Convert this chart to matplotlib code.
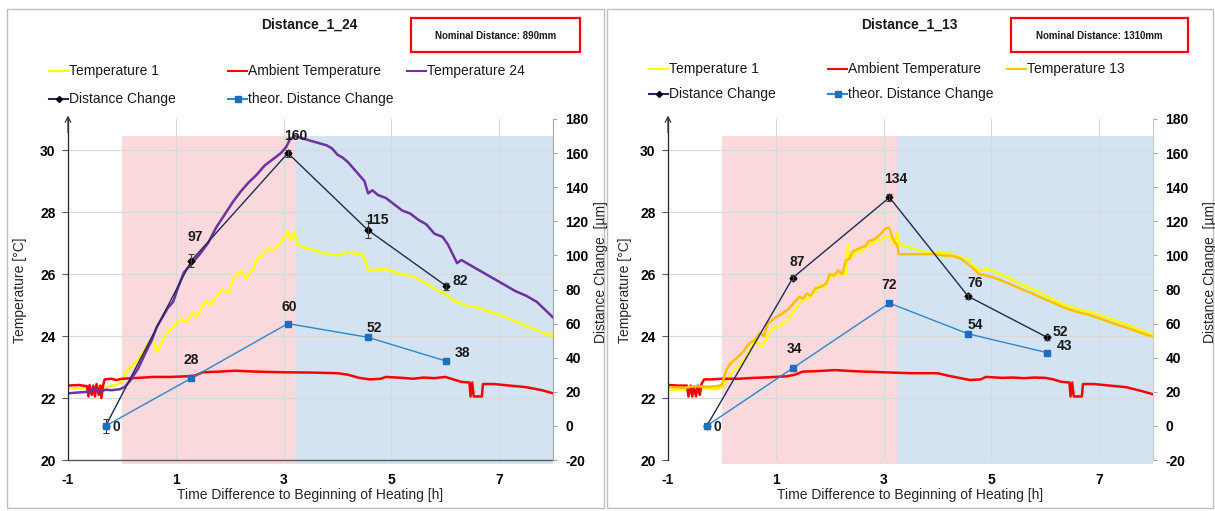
import matplotlib
matplotlib.use("Agg")
import matplotlib.pyplot as plt
from matplotlib.patches import Rectangle

plt.rcParams['font.family'] = ['Liberation Sans', 'DejaVu Sans']
plt.rcParams['axes.unicode_minus'] = False

# ---------------- data: Distance_1_24 ----------------
temp1_24 = [(-1.0, 22.3), (-0.8, 22.32), (-0.6, 22.35), (-0.5, 22.28), (-0.45, 22.4), (-0.4, 22.3),
            (-0.3, 22.35), (-0.15, 22.4), (0.0, 22.5), (0.1, 22.9), (0.2, 23.05), (0.3, 23.25),
            (0.4, 23.5), (0.5, 23.8), (0.58, 23.85), (0.65, 23.5), (0.72, 23.7), (0.8, 24.0),
            (0.9, 24.2), (1.0, 24.4), (1.1, 24.55), (1.2, 24.45), (1.3, 24.75), (1.4, 24.65),
            (1.5, 25.0), (1.57, 25.13), (1.65, 25.0), (1.71, 25.2), (1.8, 25.35), (1.86, 25.5),
            (1.95, 25.4), (2.0, 25.45), (2.07, 25.9), (2.15, 26.0), (2.22, 26.1), (2.3, 25.85),
            (2.36, 25.99), (2.45, 26.2), (2.5, 26.52), (2.6, 26.6), (2.72, 26.84), (2.8, 26.75),
            (2.87, 26.9), (2.95, 27.0), (3.01, 27.17), (3.08, 27.38), (3.13, 27.1), (3.16, 27.2),
            (3.21, 27.33), (3.24, 26.95), (3.4, 26.85), (3.6, 26.75), (3.8, 26.65), (4.0, 26.6),
            (4.2, 26.7), (4.35, 26.65), (4.46, 26.65), (4.52, 26.4), (4.57, 26.1), (4.7, 26.15),
            (4.89, 26.15), (5.0, 26.1), (5.1, 26.04), (5.2, 26.0), (5.33, 25.94), (5.45, 25.9),
            (5.54, 25.78), (5.7, 25.65), (5.83, 25.5), (5.95, 25.4), (6.05, 25.3), (6.19, 25.08),
            (6.3, 25.05), (6.41, 24.97), (6.6, 24.92), (6.8, 24.8), (7.0, 24.68), (7.2, 24.55),
            (7.4, 24.4), (7.6, 24.25), (7.8, 24.12), (8.0, 24.0)]
amb_24 = [(-1.0, 22.4), (-0.8, 22.42), (-0.65, 22.38), (-0.62, 22.05), (-0.6, 22.42), (-0.56, 22.1),
          (-0.53, 22.4), (-0.5, 22.05), (-0.47, 22.45), (-0.43, 22.1), (-0.4, 22.4), (-0.38, 22.0),
          (-0.35, 22.4), (-0.32, 22.6), (-0.2, 22.62), (-0.1, 22.58), (0.0, 22.62), (0.3, 22.65),
          (0.6, 22.68), (0.9, 22.68), (1.2, 22.7), (1.35, 22.72), (1.5, 22.83), (1.8, 22.85),
          (2.1, 22.88), (2.5, 22.85), (3.0, 22.83), (3.5, 22.82), (4.0, 22.8), (4.2, 22.75),
          (4.4, 22.65), (4.6, 22.6), (4.8, 22.62), (4.9, 22.68), (5.2, 22.65), (5.4, 22.62),
          (5.6, 22.66), (5.8, 22.64), (6.0, 22.68), (6.15, 22.6), (6.3, 22.52), (6.45, 22.5),
          (6.47, 22.05), (6.5, 22.5), (6.53, 22.05), (6.68, 22.05), (6.7, 22.45), (6.9, 22.45),
          (7.2, 22.4), (7.5, 22.35), (7.8, 22.25), (8.0, 22.15)]
temp24 = [(-1.0, 22.15), (-0.8, 22.18), (-0.6, 22.2), (-0.5, 22.32), (-0.4, 22.2), (-0.3, 22.27),
          (-0.2, 22.25), (-0.05, 22.28), (0.05, 22.35), (0.15, 22.55), (0.3, 22.95), (0.45, 23.5),
          (0.55, 23.85), (0.65, 24.3), (0.75, 24.6), (0.85, 24.9), (0.95, 25.1), (1.05, 25.6),
          (1.15, 26.05), (1.3, 26.35), (1.45, 26.65), (1.6, 27.0), (1.75, 27.5), (1.9, 27.9),
          (2.05, 28.3), (2.2, 28.65), (2.35, 28.95), (2.5, 29.2), (2.65, 29.5), (2.8, 29.7),
          (2.95, 29.9), (3.05, 30.1), (3.12, 30.35), (3.21, 30.45), (3.4, 30.35), (3.6, 30.25),
          (3.8, 30.15), (3.9, 30.05), (4.0, 29.85), (4.1, 29.75), (4.2, 29.6), (4.3, 29.4),
          (4.4, 29.2), (4.5, 29.0), (4.57, 28.6), (4.65, 28.7), (4.75, 28.55), (4.9, 28.45),
          (5.05, 28.25), (5.2, 28.05), (5.35, 27.95), (5.5, 27.75), (5.65, 27.6), (5.8, 27.3),
          (5.95, 27.2), (6.05, 26.95), (6.15, 26.6), (6.22, 26.35), (6.3, 26.45), (6.5, 26.25),
          (6.7, 26.05), (6.9, 25.85), (7.1, 25.65), (7.3, 25.45), (7.5, 25.3), (7.7, 25.1),
          (7.85, 24.85), (8.0, 24.6)]
dist_t_24 = [-0.3, 1.29, 3.08, 4.56, 6.02]
dist_24 = [0, 97, 160, 115, 82]
dist_err_24 = [4, 4, 2, 5, 2]
theor_24 = [0, 28, 60, 52, 38]

# ---------------- data: Distance_1_13 ----------------
temp1_13 = [(-1.0, 22.25), (-0.7, 22.28), (-0.5, 22.25), (-0.3, 22.3), (-0.1, 22.28), (0.0, 22.35),
            (0.1, 22.6), (0.2, 22.85), (0.3, 23.0), (0.4, 23.2), (0.5, 23.45), (0.6, 23.87),
            (0.68, 23.75), (0.75, 23.65), (0.82, 23.9), (0.9, 24.15), (1.0, 24.3), (1.1, 24.35),
            (1.2, 24.5), (1.3, 24.7), (1.4, 24.95), (1.5, 25.16), (1.6, 25.2), (1.73, 25.43),
            (1.82, 25.65), (1.9, 25.55), (2.0, 25.9), (2.1, 25.95), (2.23, 26.07), (2.3, 26.0),
            (2.34, 26.95), (2.37, 26.55), (2.45, 26.6), (2.51, 26.75), (2.58, 26.7), (2.66, 26.86),
            (2.75, 26.95), (2.87, 27.07), (2.95, 27.1), (3.02, 27.17), (3.12, 27.23), (3.2, 26.95),
            (3.25, 27.33), (3.3, 26.96), (3.45, 26.88), (3.59, 26.8), (3.75, 26.72), (3.95, 26.64),
            (4.05, 26.72), (4.16, 26.7), (4.3, 26.62), (4.45, 26.52), (4.56, 26.49), (4.65, 26.3),
            (4.77, 26.12), (4.9, 26.15), (5.02, 26.12), (5.15, 26.0), (5.31, 25.9), (5.45, 25.75),
            (5.6, 25.64), (5.75, 25.52), (5.88, 25.43), (6.0, 25.3), (6.17, 25.16), (6.3, 25.05),
            (6.46, 24.95), (6.65, 24.85), (6.82, 24.78), (7.0, 24.68), (7.18, 24.57), (7.36, 24.46),
            (7.54, 24.35), (7.75, 24.2), (7.9, 24.1), (8.0, 24.03)]
amb_13 = [(-1.0, 22.42), (-0.8, 22.4), (-0.65, 22.4), (-0.62, 22.05), (-0.58, 22.4), (-0.55, 22.05),
          (-0.52, 22.35), (-0.48, 22.05), (-0.45, 22.4), (-0.41, 22.1), (-0.38, 22.45), (-0.33, 22.6),
          (-0.2, 22.6), (0.0, 22.62), (0.3, 22.62), (0.6, 22.65), (0.9, 22.67), (1.2, 22.7),
          (1.35, 22.75), (1.5, 22.85), (1.8, 22.87), (2.1, 22.9), (2.5, 22.86), (3.0, 22.83),
          (3.5, 22.8), (4.0, 22.8), (4.2, 22.72), (4.4, 22.65), (4.6, 22.58), (4.8, 22.6),
          (4.9, 22.68), (5.2, 22.65), (5.4, 22.66), (5.6, 22.64), (5.8, 22.66), (6.0, 22.65),
          (6.15, 22.6), (6.3, 22.52), (6.45, 22.5), (6.47, 22.05), (6.5, 22.5), (6.53, 22.05),
          (6.68, 22.05), (6.7, 22.45), (6.9, 22.45), (7.2, 22.4), (7.5, 22.35), (7.8, 22.22),
          (8.0, 22.12)]
temp13 = [(-1.0, 22.35), (-0.7, 22.33), (-0.5, 22.38), (-0.3, 22.36), (-0.1, 22.38), (0.0, 22.42),
          (0.08, 22.9), (0.15, 23.1), (0.3, 23.33), (0.4, 23.5), (0.5, 23.76), (0.6, 23.85),
          (0.7, 24.1), (0.78, 24.0), (0.85, 24.4), (1.0, 24.6), (1.1, 24.7), (1.22, 24.85),
          (1.3, 25.0), (1.44, 25.27), (1.5, 25.2), (1.58, 25.37), (1.65, 25.3), (1.73, 25.53),
          (1.85, 25.6), (1.94, 25.7), (2.0, 26.0), (2.08, 25.95), (2.16, 26.12), (2.23, 26.0),
          (2.3, 26.43), (2.37, 26.5), (2.44, 26.75), (2.52, 26.8), (2.59, 26.86), (2.66, 26.9),
          (2.73, 27.07), (2.8, 27.1), (2.87, 27.17), (2.95, 27.3), (3.02, 27.44), (3.08, 27.5),
          (3.12, 27.45), (3.16, 27.17), (3.22, 27.0), (3.26, 26.9), (3.28, 26.64), (3.5, 26.64),
          (3.95, 26.64), (4.1, 26.6), (4.3, 26.58), (4.45, 26.48), (4.56, 26.33), (4.65, 26.2),
          (4.77, 26.0), (4.9, 25.95), (5.02, 25.9), (5.15, 25.82), (5.31, 25.7), (5.45, 25.6),
          (5.6, 25.48), (5.75, 25.38), (5.88, 25.27), (6.0, 25.18), (6.17, 25.06), (6.3, 24.95),
          (6.46, 24.85), (6.65, 24.75), (6.82, 24.68), (7.0, 24.57), (7.18, 24.46), (7.36, 24.35),
          (7.54, 24.25), (7.75, 24.12), (7.9, 24.03), (8.0, 23.98)]
dist_t_13 = [-0.28, 1.32, 3.11, 4.57, 6.03]
dist_13 = [0, 87, 134, 76, 52]
dist_err_13 = [1, 1.5, 2, 1.5, 1.5]
theor_13 = [0, 34, 72, 54, 43]

xticks = [-1, 1, 3, 5, 7]
temp_ticks = [20, 22, 24, 26, 28, 30]
dist_ticks = list(range(-20, 181, 20))

W, H = 1215, 511
fig = plt.figure(figsize=(W / 100, H / 100), dpi=100)
bg = fig.add_axes([0, 0, 1, 1])
bg.set_xlim(0, W)
bg.set_ylim(H, 0)
bg.axis('off')

# panel frames
bg.add_patch(Rectangle((7, 9), 597, 499, fill=False, ec='#BFBFBF', lw=1))
bg.add_patch(Rectangle((607, 9), 606, 499, fill=False, ec='#BFBFBF', lw=1))


def legend_item(x, y, label, color, marker=None, mcolor=None, ms=4):
    bg.plot([x, x + 19], [y, y], color=color, lw=1.5)
    if marker:
        bg.plot([x + 9.5], [y], marker=marker, color=mcolor, ms=ms, ls='none')
    bg.text(x + 20, y, label, va='center', ha='left', fontsize=10, color='#1a1a1a')


def draw_panel(dx, title, nominal, other_label, other_color, t1, amb, other,
               dist_t, dist, err, theor, heat_end, meas_off, theor_off,
               rows, spine_col, bottom):
    ax = fig.add_axes([(68 + dx) / W, 1 - 460 / H, 485 / W, 341 / H])
    ax.set_xlim(-1, 8)
    ax.set_ylim(20, 31)
    ax.patch.set_alpha(0)

    # heating / cooling shading
    ax.add_patch(Rectangle((0, 19.87), heat_end, 30.45 - 19.87, fc='#F9D9DC', ec='none',
                           zorder=0.2, clip_on=False))
    ax.add_patch(Rectangle((heat_end, 19.87), 8 - heat_end, 30.45 - 19.87, fc='#D4E3F1',
                           ec='none', zorder=0.2, clip_on=False))

    ax.set_xticks(xticks)
    ax.set_yticks(temp_ticks)
    ax.grid(True, color='#D9D9D9', lw=0.8, zorder=0.5)

    for series, col in [(t1, '#FFFF00'), (amb, '#FF0000'), (other, other_color)]:
        x, y = zip(*series)
        ax.plot(x, y, color=col, lw=1.8, zorder=2)

    for s in ['top', 'right']:
        ax.spines[s].set_visible(False)
    ax.spines['left'].set_color('#262626')
    ax.spines['left'].set_linewidth(0.9)
    if bottom:
        ax.spines['bottom'].set_color('#595959')
        ax.spines['bottom'].set_linewidth(1)
    else:
        ax.spines['bottom'].set_visible(False)
    ax.tick_params(axis='x', length=0, pad=9, labelsize=10)
    ax.tick_params(axis='y', length=4, width=0.8, color='#595959', pad=5, labelsize=10)
    for lab in ax.get_xticklabels() + ax.get_yticklabels():
        lab.set_fontweight('bold')
    ax.annotate('', xy=(0, 1.01), xytext=(0, 0.96), xycoords='axes fraction',
                arrowprops=dict(arrowstyle='->', lw=0.8, color='#262626',
                                shrinkA=0, shrinkB=0), annotation_clip=False)

    ax2 = ax.twinx()
    ax2.set_ylim(-20, 180)
    ax2.set_yticks(dist_ticks)
    for s in ['top', 'left', 'bottom']:
        ax2.spines[s].set_visible(False)
    ax2.spines['right'].set_color(spine_col)
    ax2.tick_params(axis='y', length=3, width=0.8, color='#A6A6A6', pad=6, labelsize=10)
    for lab in ax2.get_yticklabels():
        lab.set_fontweight('bold')

    ax2.plot(dist_t, dist, color='#1F2A56', lw=1, marker='D', ms=3.5,
             mfc='black', mec='black', zorder=3)
    ax2.errorbar(dist_t, dist, yerr=err, fmt='none', ecolor='#404040', elinewidth=0.8,
                 capsize=2, capthick=0.8, zorder=3)
    ax2.plot(dist_t, theor, color='#2E86CF', lw=1, marker='s', ms=4.5,
             mfc='#1B6EC2', mec='#1B6EC2', zorder=4)

    for i, (x, v) in enumerate(zip(dist_t, dist)):
        if meas_off[i] is None:
            continue
        ax2.text(x + meas_off[i][0], v + meas_off[i][1], str(v), ha='center', va='center',
                 fontsize=10, fontweight='bold', color='#1a1a1a', zorder=5)
    for i, (x, v) in enumerate(zip(dist_t, theor)):
        ax2.text(x + theor_off[i][0], v + theor_off[i][1], str(v), ha='center', va='center',
                 fontsize=10, fontweight='bold', color='#1a1a1a', zorder=5)

    # labels and decorations in pixel space
    bg.text(20 + dx * 1.008, 290, 'Temperature [°C]', rotation=90, ha='center', va='center',
            fontsize=10, color='#262626')
    bg.text(601 + dx * 1.015, 272, 'Distance Change  [µm]', rotation=90, ha='center',
            va='center', fontsize=10, color='#262626')
    bg.text(310 + dx, 495, 'Time Difference to Beginning of Heating [h]', ha='center',
            va='center', fontsize=10, color='#262626')
    bg.text(309 + dx, 25, title, ha='center', va='center', fontsize=10,
            fontweight='bold', color='#1a1a1a')
    bx = 411 + dx * 1.0
    bw = 169 if dx == 0 else 177
    bg.add_patch(Rectangle((bx, 18), bw, 34, fill=False, ec='#FF0000', lw=1.6))
    bg.text(bx + bw / 2, 36, nominal, ha='center', va='center', fontsize=7,
            fontweight='bold', color='#1a1a1a')

    r1, r2 = rows
    legend_item(49 + dx, r1, 'Temperature 1', '#FFFF00')
    legend_item(228 + dx, r1, 'Ambient Temperature', '#FF0000')
    legend_item(407 + dx, r1, other_label, other_color)
    legend_item(49 + dx, r2, 'Distance Change', '#1F2A56', 'D', 'black', 3)
    legend_item(228 + dx, r2, 'theor. Distance Change', '#2E86CF', 's', '#1B6EC2', 4)


draw_panel(0, 'Distance_1_24', 'Nominal Distance: 890mm', 'Temperature 24', '#7030A0',
           temp1_24, amb_24, temp24, dist_t_24, dist_24, dist_err_24, theor_24, 3.21,
           [None, (0.08, 14), (0.15, 10), (0.19, 6), (0.25, 3)],
           [(0.2, -0.6), (0.0, 10.6), (0.02, 9.7), (0.12, 5.4), (0.3, 4.8)],
           (71, 99), '#A6A6A6', True)
draw_panel(600, 'Distance_1_13', 'Nominal Distance: 1310mm', 'Temperature 13', '#FFC000',
           temp1_13, amb_13, temp13, dist_t_13, dist_13, dist_err_13, theor_13, 3.25,
           [None, (0.07, 9.3), (0.11, 10.8), (0.13, 7.6), (0.25, 3.2)],
           [(0.2, -0.7), (0.03, 11), (0.0, 10.6), (0.13, 5.2), (0.32, 4)],
           (69, 94), '#F4B6BD', False)

fig.savefig('out.png', dpi=100)
